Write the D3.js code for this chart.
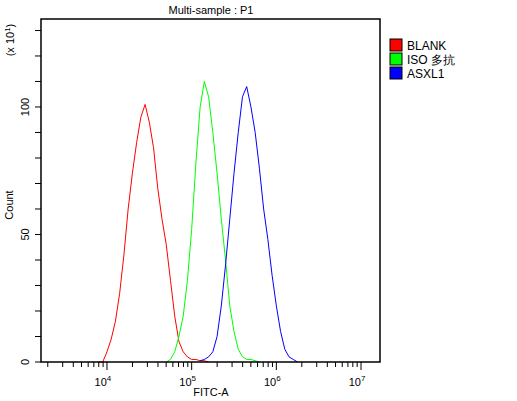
<!DOCTYPE html>
<html><head><meta charset="utf-8">
<script src="https://cdn.jsdelivr.net/npm/d3@7"></script>
<style>body{margin:0;background:#fff}text{font-family:"Liberation Sans",Arial,sans-serif}</style>
</head><body>
<div id="chart"></div>
<script>
// histogram bins (log10 of FITC-A) and counts (x10)
const blankLog = [3.90,3.95,4.00,4.05,4.10,4.15,4.20,4.25,4.30,4.35,4.40,4.45,4.50,4.55,4.60,4.65,4.70,4.75,4.80,4.85,4.90,4.95,5.00,5.05,5.10,5.15,5.20];
const blankCnt = [0,0,4,9,16,27,42,60,74,86,96,101,94,84,68,56,46,32,18,8,4,2,1,1,0.5,0.5,0];
const isoLog = [4.70,4.75,4.80,4.85,4.90,4.95,5.00,5.05,5.10,5.15,5.20,5.25,5.30,5.35,5.40,5.45,5.50,5.55,5.60,5.65,5.70,5.75,5.80];
const isoCnt = [0,1,4,10,18,32,52,78,100,110,104,90,74,56,40,22,12,5,2,1,1,0.5,0];
const asxLog = [5.10,5.15,5.20,5.25,5.30,5.35,5.40,5.45,5.50,5.55,5.60,5.65,5.70,5.75,5.80,5.85,5.90,5.95,6.00,6.05,6.10,6.15,6.20,6.25];
const asxCnt = [0.5,1,2,4,10,22,38,56,74,90,104,108,100,90,76,60,48,34,22,12,5,2,1,0];
const seriesNames = ["BLANK", "ISO 多抗", "ASXL1"];
const seriesColors = ["#ff0000", "#00ff00", "#0000ff"];
const yTicks = [0,10,20,30,40,50,60,70,80,90,100,110,120,130];
const yLabels = [0,50,100];
const majorDecades = [4,5,6,7];

const W = 517, H = 401, L = 41, R = 380, T = 19, B = 362;
const svg = d3.select('#chart').append('svg').attr('width', W).attr('height', H);
const x = d3.scaleLog().domain([Math.pow(10,3.221), Math.pow(10,7.224)]).range([L, R]);
const y = d3.scaleLinear().domain([0, 134.5]).range([B, T]);

const series = [
  {log: blankLog, cnt: blankCnt},
  {log: isoLog, cnt: isoCnt},
  {log: asxLog, cnt: asxCnt}
];
const line = d3.line()
  .x(d => x(Math.pow(10, d[0]))).y(d => y(d[1]));
series.forEach((s, i) => {
  svg.append('path').datum(s.log.map((v, j) => [v, s.cnt[j]]))
    .attr('d', line).attr('fill', 'none')
    .attr('stroke', seriesColors[i]).attr('stroke-width', 1);
});

// frame
svg.append('path').attr('d', `M${L},${T}H${R}V${B}H${L}Z`)
  .attr('fill', 'none').attr('stroke', '#000').attr('stroke-width', 1.5);

// x ticks
const xt = [];
for (let d = 3; d <= 7; d++) for (let m = 1; m <= 9; m++) {
  const v = m * Math.pow(10, d);
  if (v >= x.domain()[0] && v <= x.domain()[1]) xt.push({v, major: m === 1});
}
svg.selectAll('.xt').data(xt).enter().append('line')
  .attr('x1', d => x(d.v)).attr('x2', d => x(d.v))
  .attr('y1', B).attr('y2', d => B + (d.major ? 8 : 5))
  .attr('stroke', '#000');
const xl = svg.selectAll('.xl').data(majorDecades).enter().append('text')
  .attr('x', d => x(Math.pow(10, d)) - 4).attr('y', 386)
  .attr('font-size', 11).attr('text-anchor', 'middle');
xl.append('tspan').text('10');
xl.append('tspan').attr('dy', -5).attr('font-size', 8).text(d => d);

// y ticks
svg.selectAll('.yt').data(yTicks).enter().append('line')
  .attr('x1', L - 6).attr('x2', L).attr('y1', d => y(d)).attr('y2', d => y(d))
  .attr('stroke', '#000');
svg.selectAll('.yl').data(yLabels).enter().append('text')
  .attr('transform', d => `translate(29,${y(d)}) rotate(-90)`)
  .attr('text-anchor', 'middle').attr('font-size', 11).text(d => d);

svg.append('text').attr('transform', 'translate(13,205) rotate(-90)')
  .attr('text-anchor', 'middle').attr('font-size', 11).text('Count');
const ex = svg.append('text').attr('transform', 'translate(14,40) rotate(-90)')
  .attr('text-anchor', 'middle').attr('font-size', 11);
ex.append('tspan').text('(x 10');
ex.append('tspan').attr('dy', -4).attr('font-size', 8).text('1');
ex.append('tspan').attr('dy', 4).text(')');

svg.append('text').attr('x', 211).attr('y', 14).attr('text-anchor', 'middle')
  .attr('font-size', 11).text('Multi-sample : P1');
svg.append('text').attr('x', 211).attr('y', 396).attr('text-anchor', 'middle')
  .attr('font-size', 11).text('FITC-A');

// legend
const lg = svg.selectAll('.lg').data(seriesNames).enter().append('g')
  .attr('transform', (d, i) => `translate(390,${39 + i * 14})`);
lg.append('rect').attr('width', 12).attr('height', 12)
  .attr('fill', (d, i) => seriesColors[i]).attr('stroke', '#000');
lg.append('text').attr('x', 17).attr('y', 11).attr('font-size', 12)
  .text(d => d);
</script>
</body></html>
